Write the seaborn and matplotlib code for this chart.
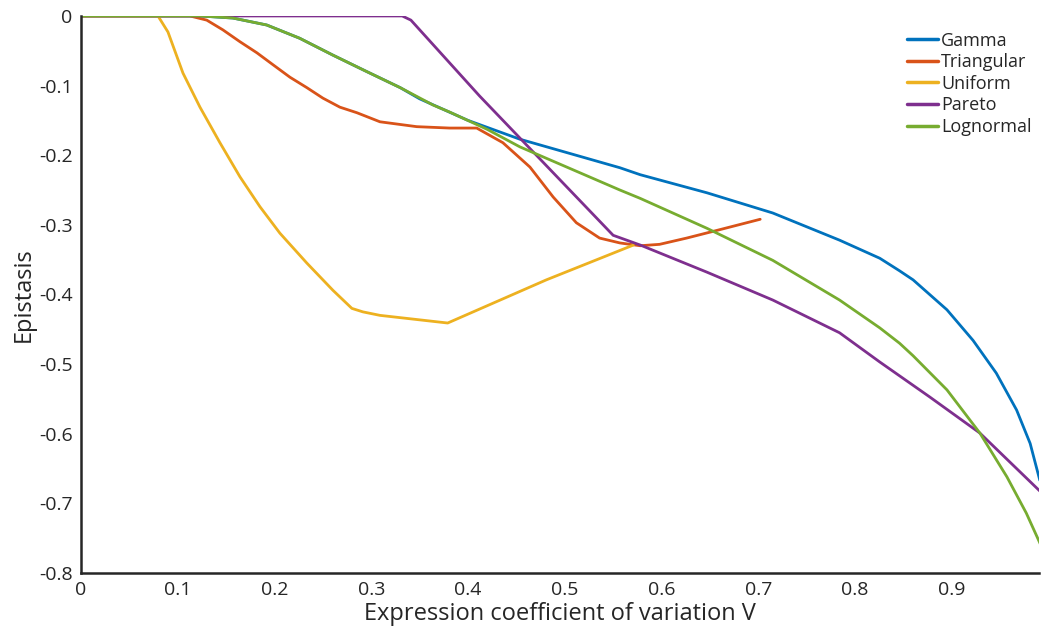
import matplotlib
matplotlib.use("Agg")
import matplotlib.pyplot as plt
import seaborn as sns
import pandas as pd

# values
names = ["Gamma", "Triangular", "Uniform", "Pareto", "Lognormal"]
colors = ["#0072BD", "#D95319", "#EDB120", "#7E2F8E", "#77AC30"]

gamma_x = [0.0, 0.123, 0.157, 0.192, 0.226, 0.260, 0.2955, 0.330, 0.350, 0.400, 0.4536,
           0.557, 0.578, 0.647, 0.715, 0.784, 0.8256, 0.846, 0.860, 0.895, 0.922, 0.946,
           0.967, 0.981, 0.991]
gamma_y = [0.0, 0.0, -0.003, -0.013, -0.032, -0.056, -0.080, -0.103, -0.119, -0.150, -0.177,
           -0.218, -0.228, -0.254, -0.283, -0.322, -0.348, -0.366, -0.379, -0.422, -0.466, -0.513,
           -0.566, -0.614, -0.667]

tri_x = [0.0, 0.1126, 0.130, 0.1467, 0.1643, 0.1819, 0.1984, 0.216, 0.2335, 0.250, 0.2676,
         0.2852, 0.309, 0.347, 0.381, 0.409, 0.436, 0.464, 0.488, 0.512, 0.536, 0.557,
         0.578, 0.598, 0.626, 0.660, 0.702]
tri_y = [0.0, 0.0, -0.006, -0.020, -0.037, -0.053, -0.070, -0.088, -0.103, -0.118, -0.131,
         -0.139, -0.152, -0.159, -0.161, -0.161, -0.182, -0.217, -0.260, -0.297, -0.319, -0.326,
         -0.330, -0.328, -0.319, -0.307, -0.292]

uni_x = [0.0, 0.0796, 0.0899, 0.1054, 0.123, 0.1436, 0.1643, 0.185, 0.2056, 0.2335, 0.2604,
         0.280, 0.2914, 0.309, 0.379, 0.481, 0.571]
uni_y = [0.0, 0.0, -0.023, -0.082, -0.131, -0.182, -0.231, -0.274, -0.312, -0.355, -0.394,
         -0.420, -0.425, -0.430, -0.441, -0.379, -0.329]

par_x = [0.0, 0.332, 0.341, 0.412, 0.550, 0.578, 0.647, 0.715, 0.784, 0.8256, 0.877,
         0.929, 0.993]
par_y = [0.0, 0.0, -0.006, -0.115, -0.315, -0.329, -0.368, -0.408, -0.455, -0.497, -0.547,
         -0.599, -0.685]

logn_x = [0.0, 0.123, 0.157, 0.192, 0.226, 0.260, 0.2955, 0.330, 0.364, 0.381, 0.420,
          0.4536, 0.557, 0.578, 0.647, 0.715, 0.784, 0.8256, 0.846, 0.860, 0.895, 0.929,
          0.957, 0.977, 0.993]
logn_y = [0.0, 0.0, -0.003, -0.013, -0.032, -0.056, -0.080, -0.103, -0.128, -0.138, -0.163,
          -0.188, -0.250, -0.262, -0.305, -0.351, -0.408, -0.448, -0.470, -0.488, -0.537, -0.599,
          -0.662, -0.714, -0.763]

x_ticks = [0, 0.1, 0.2, 0.3, 0.4, 0.5, 0.6, 0.7, 0.8, 0.9]
x_labels = ["0", "0.1", "0.2", "0.3", "0.4", "0.5", "0.6", "0.7", "0.8", "0.9"]
y_ticks = [0, -0.1, -0.2, -0.3, -0.4, -0.5, -0.6, -0.7, -0.8]
y_labels = ["0", "-0.1", "-0.2", "-0.3", "-0.4", "-0.5", "-0.6", "-0.7", "-0.8"]

all_x = [gamma_x, tri_x, uni_x, par_x, logn_x]
all_y = [gamma_y, tri_y, uni_y, par_y, logn_y]
frames = []
for name, xs, ys in zip(names, all_x, all_y):
    frames.append(pd.DataFrame({"V": xs, "Epistasis": ys, "dist": name}))
df = pd.concat(frames, ignore_index=True)

sns.set_style("white")
plt.rcParams["font.family"] = ["Open Sans", "DejaVu Sans"]

fig = plt.figure(figsize=(10.42, 6.33), dpi=100)
ax = fig.add_axes([0.0777, 0.0948, 0.9193, 0.88])

sns.lineplot(data=df, x="V", y="Epistasis", hue="dist", hue_order=names,
             palette=colors, estimator=None, sort=False, linewidth=2.0, ax=ax)

ax.set_xlim(0, 0.99)
ax.set_ylim(-0.8, 0)
ax.set_xticks(x_ticks)
ax.set_xticklabels(x_labels)
ax.set_yticks(y_ticks)
ax.set_yticklabels(y_labels)
ax.tick_params(direction="in", length=7, width=1.8, color="#262626",
               labelsize=14, labelcolor="#262626", pad=6)
for side in ["top", "right"]:
    ax.spines[side].set_visible(False)
for side in ["left", "bottom"]:
    ax.spines[side].set_color("#262626")
    ax.spines[side].set_linewidth(1.8)

ax.set_xlabel("Expression coefficient of variation V", fontsize=17, color="#262626", labelpad=2)
ax.set_ylabel("Epistasis", fontsize=17, color="#262626", labelpad=2)

leg = ax.legend(loc="upper right", frameon=False, fontsize=13, handlelength=1.75,
                handletextpad=0.15, labelspacing=0.2, borderaxespad=0.0,
                bbox_to_anchor=(1.0, 0.985))
for line in leg.get_lines():
    line.set_linewidth(2.5)

fig.savefig("out.png", dpi=100)
plt.close(fig)
